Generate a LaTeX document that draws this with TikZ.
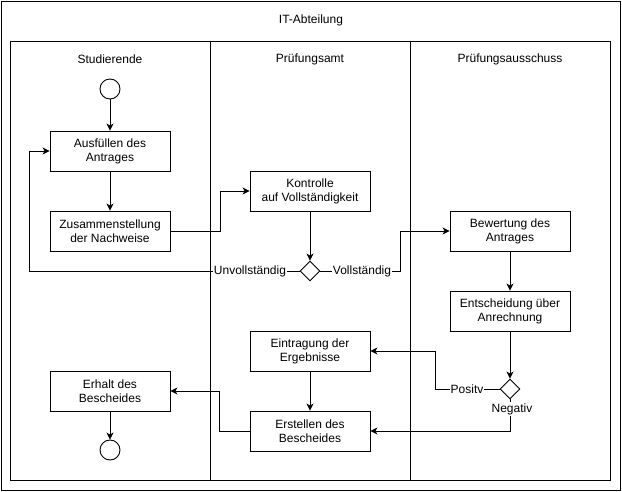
\documentclass[tikz,border=0pt]{standalone}
\usepackage{fontspec}
\setmainfont{Liberation Sans}
\usetikzlibrary{arrows.meta}
\usetikzlibrary{shapes.geometric}

\begin{document}
\begin{tikzpicture}[
        x=1pt, y=-1pt,
        line width=0.9pt,
        font=\fontsize{12}{14}\selectfont,
        arr/.style={-{Stealth[length=7pt,width=7pt,inset=2pt]}},
        activity/.style={draw, minimum width=120pt, minimum height=40pt, align=center, inner sep=2pt},
        state/.style={draw, circle, minimum size=20pt, inner sep=0pt},
        decision/.style={draw, diamond, minimum size=20pt, inner sep=0pt},
        guard/.style={fill=white, inner sep=1pt}
    ]
    \useasboundingbox (0,0) rectangle (622,492);
    % frames and lanes
    \draw (1,1) rectangle (620,490);
    \draw (10,41) rectangle (610,480);
    \draw (210,41) -- (210,480);
    \draw (410,41) -- (410,480);
    \node (dept) at (311,20) {IT-Abteilung};
    \node (lane1) at (110,59) {Studierende};
    \node (lane2) at (310,59) {Prüfungsamt};
    \node (lane3) at (510,59) {Prüfungsausschuss};

    % Studierende
    \node[state] (start) at (110,89) {};
    \node[activity] (ausf) at (110,151) {Ausfüllen des\\Antrages};
    \node[activity] (zus) at (110,231) {Zusammenstellung\\der Nachweise};
    \node[activity] (erh) at (110,391) {Erhalt des\\Bescheides};
    \node[state] (stop) at (110,450) {};

    % Pruefungsamt
    \node[activity] (kontr) at (310,191) {Kontrolle\\auf Vollständigkeit};
    \node[decision] (check) at (310,271) {};
    \node[activity] (eintr) at (310,351) {Eintragung der\\Ergebnisse};
    \node[activity] (erst) at (310,431) {Erstellen des\\Bescheides};

    % Pruefungsausschuss
    \node[activity] (bew) at (510,231) {Bewertung des\\Antrages};
    \node[activity] (ents) at (510,311) {Entscheidung über\\Anrechnung};
    \node[decision] (vote) at (510,389) {};

    % flow
    \draw[arr] (start) -- (ausf);
    \draw[arr] (ausf) -- (zus);
    \draw[arr] (zus.east) -- ++(50,0) |- (kontr.west);
    \draw[arr] (kontr) -- (check);
    \draw[arr] (check.west) -- ++(-270,0) |- (ausf.west);
    \draw[arr] (check.east) -- ++(80,0) |- (bew.west);
    \draw[arr] (bew) -- (ents);
    \draw[arr] (ents) -- (vote);
    \draw[arr] (vote.west) -- ++(-64,0) |- (eintr.east);
    \draw[arr] (vote.south) |- (erst.east);
    \draw[arr] (eintr) -- (erst);
    \draw[arr] (erst.west) -- ++(-30,0) |- (erh.east);
    \draw[arr] (erh) -- (stop);

    % guards
    \node[guard] (unv) at (250,271) {Unvollständig};
    \node[guard] (voll) at (362,271) {Vollständig};
    \node[guard] (pos) at (467,389) {Positv};
    \node[guard] (neg) at (512,409) {Negativ};
\end{tikzpicture}
\end{document}
